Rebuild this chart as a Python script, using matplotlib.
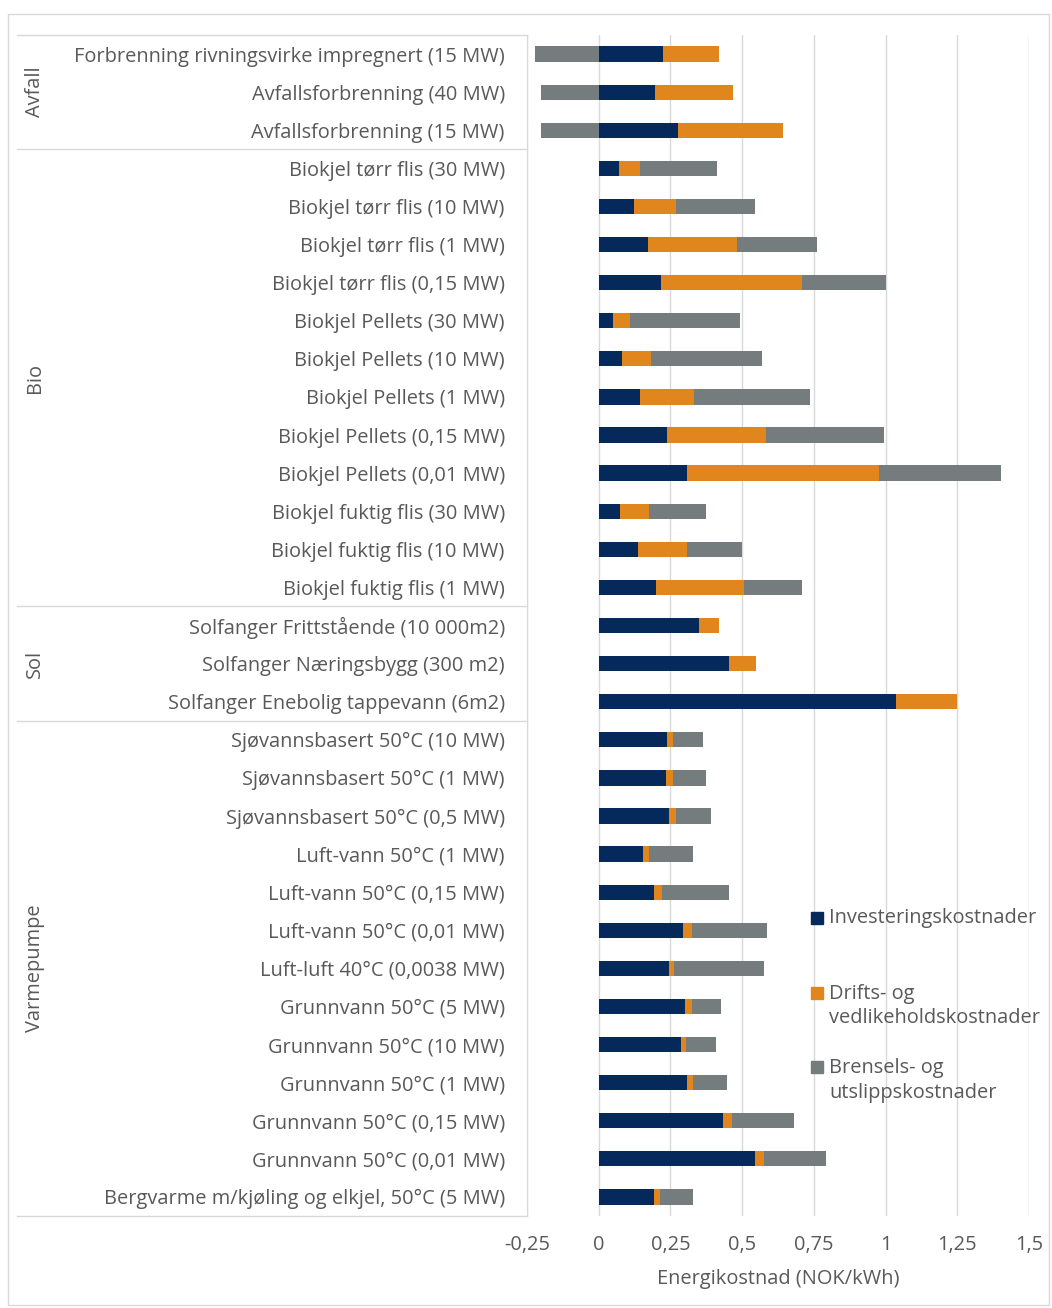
import matplotlib
matplotlib.use("Agg")
import matplotlib.pyplot as plt
import matplotlib.transforms as mtransforms
from matplotlib.patches import Rectangle
import numpy as np

plt.rcParams['font.family'] = ['Open Sans', 'DejaVu Sans']

categories = [
    "Forbrenning rivningsvirke impregnert (15 MW)",
    "Avfallsforbrenning (40 MW)",
    "Avfallsforbrenning (15 MW)",
    "Biokjel tørr flis (30 MW)",
    "Biokjel tørr flis (10 MW)",
    "Biokjel tørr flis (1 MW)",
    "Biokjel tørr flis (0,15 MW)",
    "Biokjel Pellets (30 MW)",
    "Biokjel Pellets (10 MW)",
    "Biokjel Pellets (1 MW)",
    "Biokjel Pellets (0,15 MW)",
    "Biokjel Pellets (0,01 MW)",
    "Biokjel fuktig flis (30 MW)",
    "Biokjel fuktig flis (10 MW)",
    "Biokjel fuktig flis (1 MW)",
    "Solfanger Frittstående (10 000m2)",
    "Solfanger Næringsbygg (300 m2)",
    "Solfanger Enebolig tappevann (6m2)",
    "Sjøvannsbasert 50°C (10 MW)",
    "Sjøvannsbasert 50°C (1 MW)",
    "Sjøvannsbasert 50°C (0,5 MW)",
    "Luft-vann 50°C (1 MW)",
    "Luft-vann 50°C (0,15 MW)",
    "Luft-vann 50°C (0,01 MW)",
    "Luft-luft 40°C (0,0038 MW)",
    "Grunnvann 50°C (5 MW)",
    "Grunnvann 50°C (10 MW)",
    "Grunnvann 50°C (1 MW)",
    "Grunnvann 50°C (0,15 MW)",
    "Grunnvann 50°C (0,01 MW)",
    "Bergvarme m/kjøling og elkjel, 50°C (5 MW)",
]

groups = ["Avfall", "Bio", "Sol", "Varmepumpe"]
group_sizes = [3, 12, 3, 13]

investering = [0.224, 0.197, 0.277,
               0.070, 0.124, 0.171, 0.217,
               0.050, 0.082, 0.143, 0.239, 0.308,
               0.075, 0.137, 0.198,
               0.348, 0.454, 1.038,
               0.238, 0.233, 0.245,
               0.156, 0.191, 0.293,
               0.245,
               0.300, 0.286, 0.308, 0.432, 0.545,
               0.192]
drift = [0.194, 0.270, 0.364,
         0.074, 0.147, 0.312, 0.493,
         0.060, 0.101, 0.190, 0.344, 0.669,
         0.102, 0.170, 0.309,
         0.071, 0.096, 0.211,
         0.020, 0.025, 0.026,
         0.019, 0.030, 0.031,
         0.016,
         0.024, 0.019, 0.022, 0.031, 0.032,
         0.022]
brensel = [-0.222, -0.200, -0.200,
           0.270, 0.274, 0.277, 0.290,
           0.383, 0.386, 0.405, 0.411, 0.425,
           0.198, 0.191, 0.202,
           0.0, 0.0, 0.0,
           0.105, 0.117, 0.121,
           0.153, 0.233, 0.262,
           0.316,
           0.102, 0.105, 0.118, 0.219, 0.216,
           0.116]

series_names = ["Investeringskostnader",
                "Drifts- og\nvedlikeholdskostnader",
                "Brensels- og\nutslippskostnader"]
xticks = [-0.25, 0, 0.25, 0.5, 0.75, 1, 1.25, 1.5]
xlabel = "Energikostnad (NOK/kWh)"

C_INV = "#04295A"
C_DRIFT = "#E0861C"
C_BR = "#747C7E"
C_TXT = "#595959"
C_GRID = "#D9D9D9"
FS = 14.4

W, H = 1052, 1308
fig = plt.figure(figsize=(W / 100, H / 100), dpi=100)
ax = fig.add_axes([527 / W, 1 - 1216 / H, (1029 - 527) / W, (1216 - 35) / H])

inv = np.array(investering)
dr = np.array(drift)
br = np.array(brensel)
y = np.arange(len(categories))
h = 0.4
ax.barh(y, inv, left=0, height=h, color=C_INV, zorder=3)
ax.barh(y, dr, left=inv, height=h, color=C_DRIFT, zorder=3)
br_left = np.where(br < 0, 0, inv + dr)
ax.barh(y, br, left=br_left, height=h, color=C_BR, zorder=3)

ax.set_ylim(len(categories) - 0.5, -0.5)
ax.set_xlim(-0.25, 1.5)
ax.set_xticks(xticks)
ax.set_xticklabels([("%g" % t).replace(".", ",") for t in xticks])
ax.set_yticks(y)
ax.set_yticklabels(categories)
ax.tick_params(axis='y', length=0, pad=16, labelsize=FS, labelcolor=C_TXT)
ax.tick_params(axis='x', length=0, pad=14, labelsize=FS, labelcolor=C_TXT)
ax.grid(axis='x', color=C_GRID, linewidth=1, zorder=0)
for s in ['top', 'right', 'bottom']:
    ax.spines[s].set_visible(False)
ax.spines['left'].set_color(C_GRID)
ax.set_xlabel(xlabel, fontsize=FS, color=C_TXT, labelpad=10)

# group separators and labels
trans = mtransforms.blended_transform_factory(fig.transFigure, ax.transData)
x0 = 17 / W
x1 = 527 / W
bounds = np.concatenate([[0], np.cumsum(group_sizes)]) - 0.5
for b in bounds:
    ax.plot([x0, x1], [b, b], transform=trans, color=C_GRID, lw=1, clip_on=False)
for g, a, b in zip(groups, bounds[:-1], bounds[1:]):
    ax.text(35 / W, (a + b) / 2, g, transform=trans, rotation=90, ha='center',
            va='center', fontsize=FS, color=C_TXT)

# legend (manual)
leg_colors = [C_INV, C_DRIFT, C_BR]
leg_y = [918, 1006, 1080.5]
sq_y = [918, 993, 1067]
for name, col, ty, sy in zip(series_names, leg_colors, leg_y, sq_y):
    fig.patches.append(Rectangle((811 / W, 1 - (sy + 6) / H), 12 / W, 12 / H,
                                 transform=fig.transFigure, color=col))
    fig.text(829 / W, 1 - ty / H, name, ha='left', va='center', fontsize=FS,
             color=C_TXT, linespacing=1.3)

# outer border
fig.patches.append(Rectangle((8 / W, 1 - 1305 / H), (1049 - 8) / W, (1305 - 14) / H,
                             transform=fig.transFigure, fill=False,
                             edgecolor=C_GRID, lw=1))

fig.savefig("out.png", dpi=100)
